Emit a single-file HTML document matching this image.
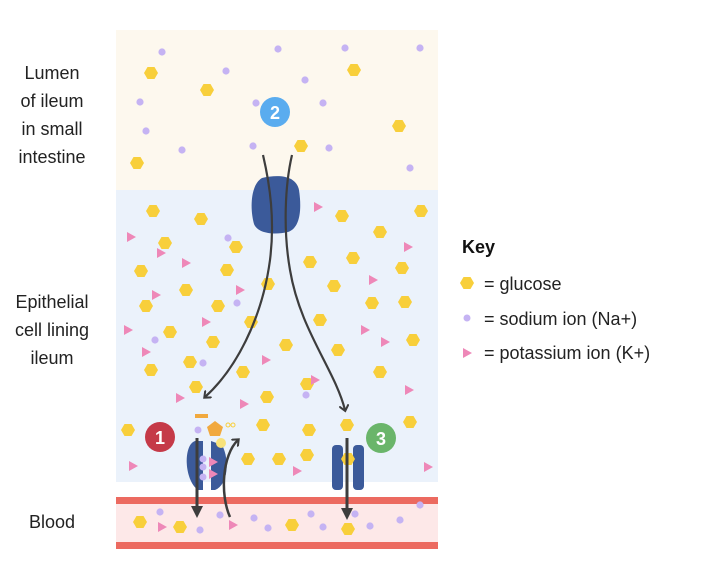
<!DOCTYPE html><html><head><style>body{margin:0;background:#fff}svg{display:block}text{font-family:"Liberation Sans",sans-serif}</style></head><body>
<svg width="714" height="584" viewBox="0 0 714 584" xmlns="http://www.w3.org/2000/svg">
<defs>
<polygon id="h" points="-7,0 -3.5,-6 3.5,-6 7,0 3.5,6 -3.5,6" fill="#f8cf3b"/>
<polygon id="t" points="-4,-5 5,0 -4,5" fill="#ee88b8"/>
<circle id="d" r="3.6" fill="#c5b3f3"/>
<marker id="a" markerWidth="10" markerHeight="10" refX="5" refY="5" orient="auto" markerUnits="userSpaceOnUse"><path d="M0,0 L6,5 L0,10" fill="none" stroke="#3d3d3d" stroke-width="2"/></marker>
<marker id="af" markerWidth="12" markerHeight="12" refX="6" refY="6" orient="auto" markerUnits="userSpaceOnUse"><path d="M0,0 L12,6 L0,12z" fill="#3d3d3d"/></marker>
</defs>
<rect x="116" y="30" width="322" height="160" fill="#fdf8ee"/>
<rect x="116" y="190" width="322" height="292" fill="#ebf2fb"/>
<rect x="116" y="497" width="322" height="52" fill="#fde8e8"/>
<rect x="116" y="497" width="322" height="7" fill="#ec6a60"/>
<rect x="116" y="542" width="322" height="7" fill="#ec6a60"/>
<g>
<use href="#h" x="151" y="73"/><use href="#h" x="207" y="90"/><use href="#h" x="354" y="70"/><use href="#h" x="399" y="126"/><use href="#h" x="137" y="163"/><use href="#h" x="301" y="146"/>
<use href="#d" x="162" y="52"/><use href="#d" x="278" y="49"/><use href="#d" x="345" y="48"/><use href="#d" x="420" y="48"/><use href="#d" x="226" y="71"/><use href="#d" x="140" y="102"/><use href="#d" x="256" y="103"/><use href="#d" x="323" y="103"/><use href="#d" x="146" y="131"/><use href="#d" x="182" y="150"/><use href="#d" x="253" y="146"/><use href="#d" x="329" y="148"/><use href="#d" x="410" y="168"/><use href="#d" x="305" y="80"/>
</g>
<g>
<use href="#h" x="153" y="211"/><use href="#h" x="201" y="219"/><use href="#h" x="342" y="216"/><use href="#h" x="421" y="211"/><use href="#h" x="165" y="243"/><use href="#h" x="380" y="232"/><use href="#h" x="141" y="271"/><use href="#h" x="236" y="247"/><use href="#h" x="310" y="262"/><use href="#h" x="353" y="258"/><use href="#h" x="402" y="268"/><use href="#h" x="186" y="290"/><use href="#h" x="268" y="284"/><use href="#h" x="334" y="286"/><use href="#h" x="146" y="306"/><use href="#h" x="218" y="306"/><use href="#h" x="372" y="303"/><use href="#h" x="405" y="302"/><use href="#h" x="251" y="322"/><use href="#h" x="320" y="320"/><use href="#h" x="170" y="332"/><use href="#h" x="213" y="342"/><use href="#h" x="286" y="345"/><use href="#h" x="338" y="350"/><use href="#h" x="413" y="340"/><use href="#h" x="151" y="370"/><use href="#h" x="243" y="372"/><use href="#h" x="196" y="387"/><use href="#h" x="380" y="372"/><use href="#h" x="267" y="397"/><use href="#h" x="307" y="384"/><use href="#h" x="128" y="430"/><use href="#h" x="263" y="425"/><use href="#h" x="309" y="430"/><use href="#h" x="248" y="459"/><use href="#h" x="279" y="459"/><use href="#h" x="307" y="455"/><use href="#h" x="410" y="422"/><use href="#h" x="347" y="425"/><use href="#h" x="227" y="270"/><use href="#h" x="190" y="362"/>
<use href="#t" x="131" y="237"/><use href="#t" x="186" y="263"/><use href="#t" x="318" y="207"/><use href="#t" x="408" y="247"/><use href="#t" x="156" y="295"/><use href="#t" x="240" y="290"/><use href="#t" x="373" y="280"/><use href="#t" x="128" y="330"/><use href="#t" x="206" y="322"/><use href="#t" x="365" y="330"/><use href="#t" x="146" y="352"/><use href="#t" x="266" y="360"/><use href="#t" x="385" y="342"/><use href="#t" x="180" y="398"/><use href="#t" x="315" y="380"/><use href="#t" x="244" y="404"/><use href="#t" x="297" y="471"/><use href="#t" x="133" y="466"/><use href="#t" x="428" y="467"/><use href="#t" x="409" y="390"/><use href="#t" x="161" y="253"/>
<use href="#d" x="228" y="238"/><use href="#d" x="237" y="303"/><use href="#d" x="155" y="340"/><use href="#d" x="306" y="395"/><use href="#d" x="203" y="363"/>
</g>
<g>
<use href="#h" x="180" y="527"/><use href="#h" x="292" y="525"/><use href="#h" x="348" y="529"/><use href="#h" x="140" y="522"/>
<use href="#d" x="200" y="530"/><use href="#d" x="220" y="515"/><use href="#d" x="254" y="518"/><use href="#d" x="268" y="528"/><use href="#d" x="311" y="514"/><use href="#d" x="323" y="527"/><use href="#d" x="355" y="514"/><use href="#d" x="370" y="526"/><use href="#d" x="400" y="520"/><use href="#d" x="160" y="512"/><use href="#d" x="420" y="505"/>
<use href="#t" x="233" y="525"/><use href="#t" x="162" y="527"/>
</g>
<path d="M262,178 C280,174 296,176 299,190 C302,210 300,228 288,232 C275,235 258,234 254,224 C250,210 250,185 262,178 Z" fill="#3b5a9a"/>
<path d="M263,155 C270,185 275,220 270,260 C262,320 235,370 205,397" fill="none" stroke="#3d3d3d" stroke-width="2.2" marker-end="url(#a)"/>
<path d="M292,155 C285,185 283,230 290,270 C300,330 335,370 345,410" fill="none" stroke="#3d3d3d" stroke-width="2.2" marker-end="url(#a)"/>
<path d="M195,441 C183,445 184,480 198,490 L203,490 L203,441Z" fill="#3b5a9a"/>
<path d="M211,441 L222,445 C230,460 228,485 215,490 L211,490Z" fill="#3b5a9a"/>
<circle cx="203" cy="459" r="3.5" fill="#c5b3f3"/><circle cx="203" cy="467" r="3.5" fill="#c5b3f3"/><circle cx="203" cy="477" r="3.5" fill="#c5b3f3"/>
<use href="#t" x="213" y="462"/><use href="#t" x="213" y="474"/>
<rect x="195" y="414" width="13" height="4" fill="#f1a93e"/>
<circle cx="198" cy="430" r="3.5" fill="#c5b3f3"/>
<polygon points="215,421 223,427 220,436 210,436 207,427" fill="#f1a93e"/>
<circle cx="228" cy="425" r="2" fill="none" stroke="#f8cf3b"/><circle cx="233" cy="425" r="2" fill="none" stroke="#f8cf3b"/>
<circle cx="221" cy="443" r="5" fill="#f8e27a"/>
<line x1="197" y1="438" x2="197" y2="512" stroke="#3d3d3d" stroke-width="3" marker-end="url(#af)"/>
<path d="M230,517 C220,495 222,455 238,440" fill="none" stroke="#3d3d3d" stroke-width="2.5" marker-end="url(#a)"/>
<rect x="332" y="445" width="11" height="45" rx="4" fill="#3b5a9a"/><rect x="353" y="445" width="11" height="45" rx="4" fill="#3b5a9a"/>
<use href="#h" x="348" y="459"/>
<line x1="347" y1="438" x2="347" y2="514" stroke="#3d3d3d" stroke-width="3" marker-end="url(#af)"/>
<circle cx="160" cy="437" r="15" fill="#c53a48"/><text x="160" y="444" font-size="18" font-weight="bold" fill="#fff" text-anchor="middle">1</text>
<circle cx="275" cy="112" r="15" fill="#5aacef"/><text x="275" y="119" font-size="18" font-weight="bold" fill="#fff" text-anchor="middle">2</text>
<circle cx="381" cy="438" r="15" fill="#6ab56a"/><text x="381" y="445" font-size="18" font-weight="bold" fill="#fff" text-anchor="middle">3</text>
<g font-size="18" fill="#222" text-anchor="middle">
<text x="52" y="79">Lumen</text><text x="52" y="107">of ileum</text><text x="52" y="135">in small</text><text x="52" y="163">intestine</text>
<text x="52" y="308">Epithelial</text><text x="52" y="336">cell lining</text><text x="52" y="364">ileum</text>
<text x="52" y="528">Blood</text>
</g>
<text x="462" y="253" font-size="18" font-weight="bold" fill="#111">Key</text>
<use href="#h" x="467" y="283"/>
<text x="484" y="290" font-size="18" fill="#222">= glucose</text>
<circle cx="467" cy="318" r="3.5" fill="#c5b3f3"/>
<text x="484" y="325" font-size="18" fill="#222">= sodium ion (Na+)</text>
<use href="#t" x="467" y="353"/>
<text x="484" y="359" font-size="18" fill="#222">= potassium ion (K+)</text>
</svg>
</body></html>
